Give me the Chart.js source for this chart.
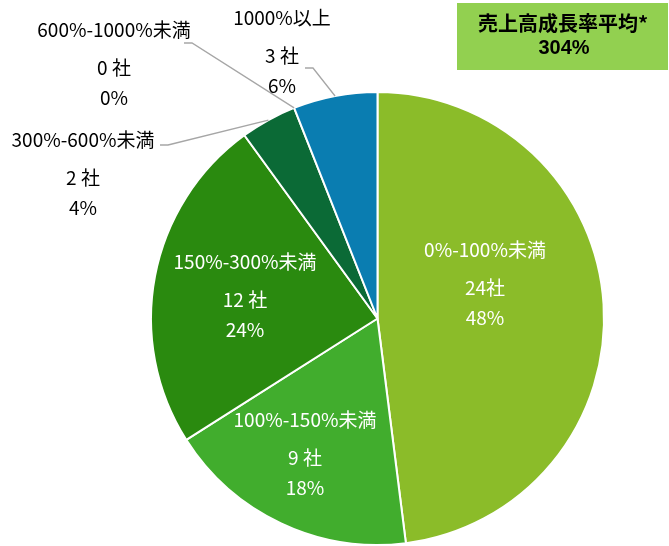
<!DOCTYPE html>
<html>
<head>
<meta charset="utf-8">
<script src="https://cdn.jsdelivr.net/npm/chart.js@4.4.1/dist/chart.umd.min.js"></script>
<style>
  html, body { margin: 0; padding: 0; background: #fff; }
  #pie { display: block; }
</style>
</head>
<body>
<canvas id="pie" width="669" height="546"></canvas>
<script>
// data
const categories = ['0%-100%未満', '100%-150%未満', '150%-300%未満', '300%-600%未満', '600%-1000%未満', '1000%以上'];
const companies = [24, 9, 12, 2, 0, 3];
const countLabels = ['24社', '9 社', '12 社', '2 社', '0 社', '3 社'];
const shareLabels = ['48%', '18%', '24%', '4%', '0%', '6%'];
const sliceColors = ['#8BBC29', '#41AD2D', '#2A8A0F', '#0B6A36', '#0B6A36', '#0A7DB1'];
const averageTitle = '売上高成長率平均*';
const averageValue = '304%';

// where the label blocks sit (centre x, first line y) and the leader line ends for outside labels
const labelPos = [
  { x: 485, y: 250, color: '#fff' },
  { x: 305, y: 420, color: '#fff' },
  { x: 245, y: 262, color: '#fff' },
  { x: 83, y: 140, color: '#000', leader: [[160, 145], [168, 145]] },
  { x: 114, y: 30, color: '#000', leader: [[184, 43], [192, 43]] },
  { x: 282, y: 18, color: '#000', leader: [[305, 68], [313, 68]] }
];
const lineGaps = [0, 38, 68];
const FONT = '"Noto Sans CJK JP", "Noto Sans", sans-serif';

const sliceLabels = {
  id: 'sliceLabels',
  afterDatasetsDraw(chart) {
    const ctx = chart.ctx;
    const meta = chart.getDatasetMeta(0);
    ctx.save();
    meta.data.forEach((arc, i) => {
      const p = labelPos[i];
      const { x, y, startAngle, endAngle, outerRadius } = arc.getProps(['x', 'y', 'startAngle', 'endAngle', 'outerRadius'], true);
      if (p.leader) {
        const mid = (startAngle + endAngle) / 2;
        ctx.strokeStyle = '#A6A6A6';
        ctx.lineWidth = 1.3;
        ctx.beginPath();
        ctx.moveTo(p.leader[0][0], p.leader[0][1]);
        ctx.lineTo(p.leader[1][0], p.leader[1][1]);
        ctx.lineTo(x + Math.cos(mid) * outerRadius, y + Math.sin(mid) * outerRadius);
        ctx.stroke();
      }
      ctx.fillStyle = p.color;
      ctx.textAlign = 'center';
      ctx.textBaseline = 'middle';
      ctx.font = '19px ' + FONT;
      [categories[i], countLabels[i], shareLabels[i]].forEach((t, k) => {
        ctx.fillText(t, p.x, p.y + lineGaps[k]);
      });
    });

    // average box, top right
    ctx.fillStyle = '#92D050';
    ctx.fillRect(457, 3, 211, 67);
    ctx.fillStyle = '#000';
    ctx.font = 'bold 20px ' + FONT;
    ctx.fillText(averageTitle, 563, 23);
    ctx.font = 'bold 20px "Liberation Sans", Arial, sans-serif';
    ctx.fillText(averageValue, 564, 48);
    ctx.restore();
  }
};

new Chart(document.getElementById('pie'), {
  type: 'pie',
  data: {
    labels: categories,
    datasets: [{
      data: companies,
      backgroundColor: sliceColors,
      borderColor: '#fff',
      borderWidth: 2
    }]
  },
  options: {
    responsive: false,
    animation: false,
    layout: { padding: { left: 150, right: 64, top: 91, bottom: 0 } },
    plugins: {
      legend: { display: false },
      tooltip: { enabled: false }
    }
  },
  plugins: [sliceLabels]
});
</script>
</body>
</html>
